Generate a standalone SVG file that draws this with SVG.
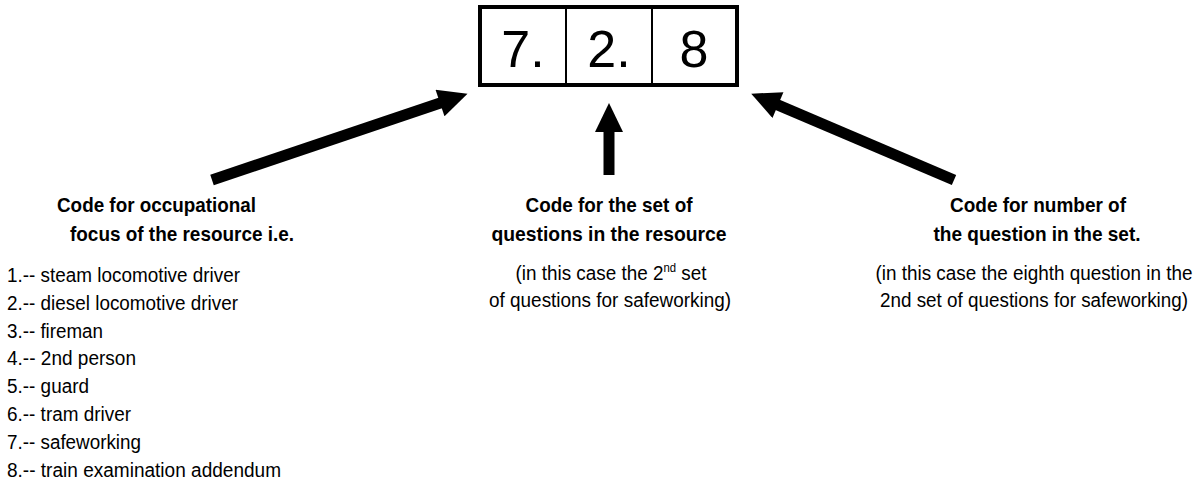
<svg xmlns="http://www.w3.org/2000/svg" width="1203" height="481" viewBox="0 0 1203 481">
<style>
.bg{fill:#fff}
.box{fill:#fff;stroke:#000;stroke-width:4}
.div{stroke:#000;stroke-width:2}
.digit{font-family:"Liberation Sans",Arial,sans-serif;font-size:52px;fill:#000;text-anchor:middle}
.hd{font-family:"Liberation Sans",Arial,sans-serif;font-size:21px;font-weight:bold;fill:#000}
.tx{font-family:"Liberation Sans",Arial,sans-serif;font-size:20px;fill:#000}
.mid{text-anchor:middle}
.arrow{stroke:#000;stroke-width:11;fill:none;marker-end:url(#ah)}
</style>
<defs>
<marker id="ah" markerUnits="userSpaceOnUse" markerWidth="30" markerHeight="28" viewBox="0 0 28 27" refX="1" refY="13.5" orient="auto">
<path d="M0,0 L28,13.5 L0,27 Z" fill="#000"/>
</marker>
</defs>
<rect class="bg" x="0" y="0" width="1203" height="481"/>
<g id="code-box">
<rect class="box" x="480" y="7" width="257" height="78"/>
<line class="div" x1="566" y1="7" x2="566" y2="85"/>
<line class="div" x1="652" y1="7" x2="652" y2="85"/>
<text class="digit" x="523" y="67">7.</text>
<text class="digit" x="609" y="67">2.</text>
<text class="digit" x="694" y="67">8</text>
</g>
<g id="connectors">
<line class="arrow" x1="212" y1="180" x2="441" y2="102.7"/>
<line class="arrow" x1="609" y1="175" x2="609" y2="131"/>
<line class="arrow" x1="954" y1="180" x2="777" y2="104.6"/>
</g>
<g id="occupational-focus">
<text class="hd" x="57" y="212" textLength="199" lengthAdjust="spacingAndGlyphs">Code for occupational</text>
<text class="hd" x="70" y="241" textLength="224" lengthAdjust="spacingAndGlyphs">focus of the resource i.e.</text>
<text class="tx" x="7" y="282" textLength="233" lengthAdjust="spacingAndGlyphs">1.-- steam locomotive driver</text>
<text class="tx" x="7" y="310" textLength="231" lengthAdjust="spacingAndGlyphs">2.-- diesel locomotive driver</text>
<text class="tx" x="7" y="338" textLength="96" lengthAdjust="spacingAndGlyphs">3.-- fireman</text>
<text class="tx" x="7" y="365" textLength="129" lengthAdjust="spacingAndGlyphs">4.-- 2nd person</text>
<text class="tx" x="7" y="393" textLength="82" lengthAdjust="spacingAndGlyphs">5.-- guard</text>
<text class="tx" x="7" y="421" textLength="124" lengthAdjust="spacingAndGlyphs">6.-- tram driver</text>
<text class="tx" x="7" y="449" textLength="134" lengthAdjust="spacingAndGlyphs">7.-- safeworking</text>
<text class="tx" x="7" y="477" textLength="274" lengthAdjust="spacingAndGlyphs">8.-- train examination addendum</text>
</g>
<g id="question-set">
<text class="hd mid" x="609" y="212" textLength="167" lengthAdjust="spacingAndGlyphs">Code for the set of</text>
<text class="hd mid" x="609" y="241" textLength="235" lengthAdjust="spacingAndGlyphs">questions in the resource</text>
<text class="tx mid" x="611" y="280" textLength="191" lengthAdjust="spacingAndGlyphs">(in this case the 2<tspan font-size="12" dy="-8">nd</tspan><tspan dy="8"> set</tspan></text>
<text class="tx mid" x="610" y="307" textLength="242" lengthAdjust="spacingAndGlyphs">of questions for safeworking)</text>
</g>
<g id="question-number">
<text class="hd mid" x="1038" y="212" textLength="176" lengthAdjust="spacingAndGlyphs">Code for number of</text>
<text class="hd mid" x="1037" y="241" textLength="207" lengthAdjust="spacingAndGlyphs">the question in the set.</text>
<text class="tx mid" x="1034" y="280" textLength="317" lengthAdjust="spacingAndGlyphs">(in this case the eighth question in the</text>
<text class="tx mid" x="1034" y="307" textLength="308" lengthAdjust="spacingAndGlyphs">2nd set of questions for safeworking)</text>
</g>
</svg>
